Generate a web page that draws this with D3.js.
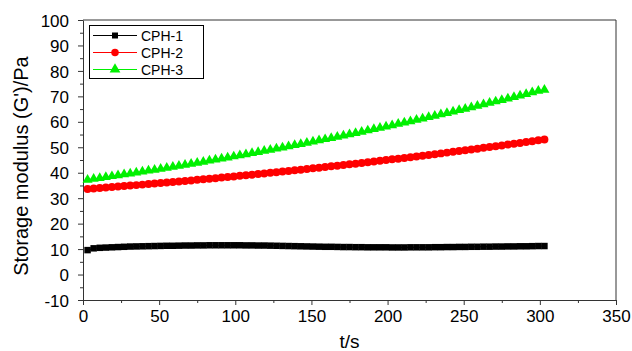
<!DOCTYPE html>
<html><head><meta charset="utf-8">
<script src="https://cdn.jsdelivr.net/npm/d3@7"></script>
<style>body{margin:0;background:#fff}svg{display:block}text{font-family:Arial,"Liberation Sans",sans-serif}</style>
</head><body>
<svg id="c" width="632" height="351"></svg>
<script>
const times = [3,7,11,15,19,23,27,31,35,39,43,47,51,55,59,63,67,71,75,79,83,87,91,95,99,103,107,111,115,119,123,127,131,135,139,143,147,151,155,159,163,167,171,175,179,183,187,191,195,199,203,207,211,215,219,223,227,231,235,239,243,247,251,255,259,263,267,271,275,279,283,287,291,295,299,303];
const cph1 = [9.6,10.3,10.5,10.6,10.7,10.8,10.9,11.0,11.05,11.1,11.15,11.2,11.25,11.3,11.3,11.35,11.4,11.4,11.45,11.45,11.5,11.5,11.5,11.5,11.5,11.5,11.45,11.45,11.4,11.4,11.35,11.3,11.25,11.2,11.15,11.1,11.05,11.0,10.95,10.9,10.9,10.85,10.8,10.8,10.75,10.75,10.7,10.7,10.7,10.7,10.65,10.65,10.65,10.7,10.7,10.7,10.7,10.75,10.75,10.8,10.8,10.85,10.85,10.9,10.9,10.95,10.95,11.0,11.0,11.05,11.05,11.1,11.1,11.15,11.2,11.2];
const cph2 = [33.63,33.81,34.00,34.18,34.37,34.55,34.75,34.94,35.13,35.33,35.53,35.73,35.93,36.14,36.35,36.56,36.77,36.98,37.20,37.42,37.64,37.86,38.09,38.31,38.54,38.77,39.01,39.24,39.48,39.72,39.96,40.21,40.45,40.70,40.95,41.20,41.46,41.72,41.97,42.23,42.50,42.76,43.03,43.30,43.57,43.85,44.12,44.40,44.68,44.96,45.25,45.53,45.82,46.11,46.41,46.70,47.00,47.30,47.60,47.90,48.21,48.52,48.83,49.14,49.46,49.77,50.09,50.41,50.74,51.06,51.39,51.72,52.05,52.38,52.72,53.06];
const cph3 = [37.25,37.59,37.93,38.28,38.63,38.98,39.34,39.70,40.07,40.44,40.81,41.18,41.56,41.94,42.33,42.72,43.11,43.51,43.91,44.32,44.73,45.14,45.55,45.97,46.39,46.82,47.25,47.68,48.12,48.56,49.01,49.45,49.90,50.36,50.82,51.28,51.75,52.22,52.69,53.17,53.65,54.13,54.62,55.11,55.61,56.11,56.61,57.11,57.62,58.14,58.65,59.17,59.70,60.23,60.76,61.29,61.83,62.37,62.92,63.47,64.02,64.58,65.14,65.70,66.27,66.84,67.42,68.00,68.58,69.16,69.75,70.35,70.94,71.54,72.15,72.6];
const seriesNames = ["CPH-1","CPH-2","CPH-3"];
const seriesColors = ["#000000","#ff0000","#00f000"];
const seriesSymbols = [d3.symbolSquare, d3.symbolCircle, d3.symbolTriangle];
const xTicks = [0,50,100,150,200,250,300,350];
const yTicks = [-10,0,10,20,30,40,50,60,70,80,90,100];
const xTitle = "t/s";
const yTitle = "Storage modulus (G')/Pa";

const svg = d3.select("#c");
const L = 83, R = 616, T = 20, B = 300;
const x = d3.scaleLinear().domain([0,350]).range([L,R]);
const y = d3.scaleLinear().domain([-10,100]).range([B,T]);
const axisColor = "#333";

svg.append("line").attr("x1",L).attr("x2",R).attr("y1",T).attr("y2",T).attr("stroke",axisColor).attr("stroke-width",1);
svg.append("line").attr("x1",R).attr("x2",R).attr("y1",T).attr("y2",B).attr("stroke",axisColor).attr("stroke-width",1);

const xMinor = d3.range(0,351,25).filter(v=>v%50!==0);
const yMinor = d3.range(-5,100,10);
const gx = svg.append("g").attr("transform",`translate(0,${B})`)
  .call(d3.axisBottom(x).tickValues(xTicks).tickSize(5).tickSizeOuter(0).tickPadding(5).tickFormat(d3.format("d")));
svg.append("g").attr("transform",`translate(0,${B})`)
  .call(d3.axisBottom(x).tickValues(xMinor).tickSize(3).tickSizeOuter(0).tickFormat(""))
  .select(".domain").remove();
const gy = svg.append("g").attr("transform",`translate(${L},0)`)
  .call(d3.axisLeft(y).tickValues(yTicks).tickSize(5).tickSizeOuter(0).tickPadding(9).tickFormat(d3.format("d")));
svg.append("g").attr("transform",`translate(${L},0)`)
  .call(d3.axisLeft(y).tickValues(yMinor).tickSize(3).tickSizeOuter(0).tickFormat(""))
  .select(".domain").remove();
svg.selectAll(".domain, .tick line").attr("stroke",axisColor);
gx.selectAll("text").attr("font-size",17).attr("fill","#000");
gy.selectAll("text").attr("font-size",17).attr("fill","#000").attr("dy","0.36em").text(d=>d<0?"-"+Math.abs(d):d);

svg.append("text").attr("x",(L+R)/2).attr("y",348).attr("text-anchor","middle").attr("font-size",19).text(xTitle);
svg.append("text").attr("transform",`translate(28,${(T+B)/2+6}) rotate(-90)`).attr("text-anchor","middle").attr("font-size",20).text(yTitle);

const data = [cph1,cph2,cph3];
const sizes = [42,50,44];
data.forEach((vals,i)=>{
  const pts = times.map((t,j)=>[t,vals[j]]);
  svg.append("path").datum(pts)
    .attr("fill","none").attr("stroke",seriesColors[i]).attr("stroke-width",1)
    .attr("d",d3.line().x(d=>x(d[0])).y(d=>y(d[1])));
  svg.append("g").selectAll("path").data(pts).join("path")
    .attr("transform",d=>`translate(${x(d[0])},${y(d[1])})`)
    .attr("d",d3.symbol().type(seriesSymbols[i]).size(sizes[i]))
    .attr("fill",seriesColors[i]);
});

const lg = svg.append("g");
lg.append("rect").attr("x",89.5).attr("y",25.5).attr("width",114).attr("height",53)
  .attr("fill","#fff").attr("stroke","#000").attr("stroke-width",1);
const legSizes = [36,44,50];
seriesNames.forEach((n,i)=>{
  const cy = 35.5 + i*17;
  lg.append("line").attr("x1",93).attr("x2",137).attr("y1",cy).attr("y2",cy).attr("stroke",seriesColors[i]).attr("stroke-width",1);
  lg.append("path").attr("transform",`translate(115,${cy})`).attr("d",d3.symbol().type(seriesSymbols[i]).size(legSizes[i])).attr("fill",seriesColors[i]);
  lg.append("text").attr("x",141).attr("y",cy).attr("dy","0.36em").attr("font-size",14).text(n);
});
</script>
</body></html>
